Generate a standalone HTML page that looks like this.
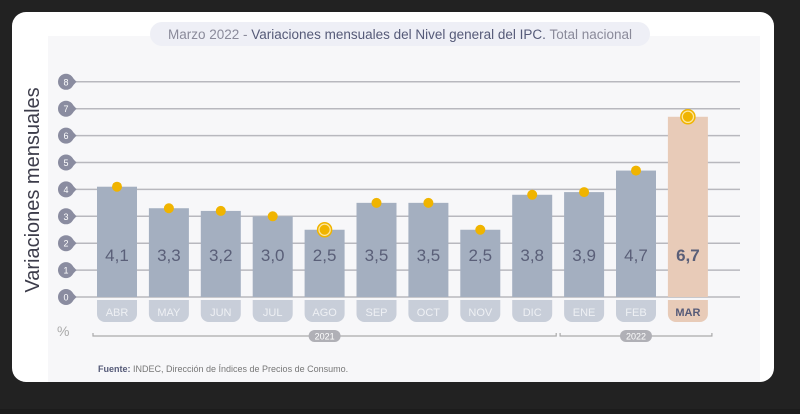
<!DOCTYPE html>
<html><head><meta charset="utf-8"><style>
body{margin:0;width:800px;height:409px;overflow:hidden;background:#1c1c1c;font-family:"Liberation Sans",sans-serif}
</style></head><body>
<svg width="800" height="409" xmlns="http://www.w3.org/2000/svg">
<rect x="0" y="0" width="800" height="409" fill="#222"/>
<rect x="12" y="12" width="762" height="370" rx="14" fill="#fff"/>
<rect x="48" y="36" width="712" height="346" fill="#f7f7f9"/>
<rect x="150" y="22" width="500" height="24" rx="12" fill="#eeeff6"/>
<text x="400" y="39" text-anchor="middle" font-size="13.5" fill="#8a8a9a">Marzo 2022 - <tspan fill="#555a78">Variaciones mensuales del Nivel general del IPC.</tspan> Total nacional</text>
<text transform="translate(39,190) rotate(-90)" text-anchor="middle" font-size="20" fill="#3c3c4a">Variaciones mensuales</text>
<text x="57" y="336" font-size="14" fill="#aaa">%</text>
<g id="grid"></g><g id="bars"></g>
<text x="98" y="372" font-size="9" fill="#777"><tspan font-weight="bold" fill="#555a78">Fuente:</tspan> INDEC, Dirección de Índices de Precios de Consumo.</text>
</svg>
<script>
const categories=["ABR","MAY","JUN","JUL","AGO","SEP","OCT","NOV","DIC","ENE","FEB","MAR"];
const values=[4.1,3.3,3.2,3.0,2.5,3.5,3.5,2.5,3.8,3.9,4.7,6.7];
const yTicks=[0,1,2,3,4,5,6,7,8];
const years=[{label:"2021",from:0,to:8},{label:"2022",from:9,to:11}];
const ns="http://www.w3.org/2000/svg";
const y=v=>297-v*26.9;
const x=i=>117+i*51.9;
function mk(t,a,p){const e=document.createElementNS(ns,t);for(const k in a)e.setAttribute(k,a[k]);p.appendChild(e);return e;}
const g=document.getElementById('grid'),b=document.getElementById('bars');
yTicks.forEach(t=>{
 const l=mk('line',{x1:74,x2:740,y1:y(t),y2:y(t),stroke:'#b8b8be','stroke-width':1.5},g);
 
 
 const p=mk('path',{d:`M70 ${y(t)-6.9}L76.5 ${y(t)}L70 ${y(t)+6.9}z`,fill:'#8a8ca0'},g);
 
 
 const c=mk('circle',{cx:66,cy:y(t),r:8,fill:'#8a8ca0'},g);
 
 
 const tx=mk('text',{x:66,y:y(t)+3.5,'text-anchor':'middle','font-size':9,fill:'#fff'},g);tx.textContent=t;
 
 
});
categories.forEach((c,i)=>{
 const last=i===categories.length-1,v=values[i];
 const r=mk('rect',{x:x(i)-20,y:y(v),width:40,height:y(0)-y(v),fill:last?'#e8cbb8':'#a4afc0'},b);
 
 
 const pl=mk('path',{d:`M${x(i)-20} 300h40v14a8 8 0 0 1-8 8h-24a8 8 0 0 1-8-8z`,fill:last?'#e8cbb8':'#c8ced9'},b);
 
 
 const ml=mk('text',{x:x(i),y:316,'text-anchor':'middle','font-size':11,fill:last?'#555a78':'#eef0f4','font-weight':last?'bold':'normal'},b);ml.textContent=c;
 
 
 const vl=mk('text',{x:x(i),y:261,'text-anchor':'middle','font-size':17,fill:'#5a5f78','font-weight':last?'bold':'normal'},b);vl.textContent=v.toFixed(1).replace('.',',');
 
 
 if(i===4||last){const ring=mk('circle',{cx:x(i),cy:y(v),r:7,fill:'#fde7a0',stroke:'#f0b400','stroke-width':1.5},b);
  
  }
 const d=mk('circle',{cx:x(i),cy:y(v),r:5,fill:'#f0b400'},b);
 
 
});
years.forEach(yr=>{
 const x1=x(yr.from)-24,x2=x(yr.to)+24,cx=(x(yr.from)+x(yr.to))/2;
 const l=mk('path',{d:`M${x1} 333v3H${x2}v-3`,fill:'none',stroke:'#aaa','stroke-width':1.2},b);
 
 
 const p=mk('rect',{x:cx-16,y:330,width:32,height:12,rx:6,fill:'#b0b0b6'},b);
 
 
 const t=mk('text',{x:cx,y:339.5,'text-anchor':'middle','font-size':9,fill:'#fff'},b);t.textContent=yr.label;
 
 
});
</script>
</body></html>
